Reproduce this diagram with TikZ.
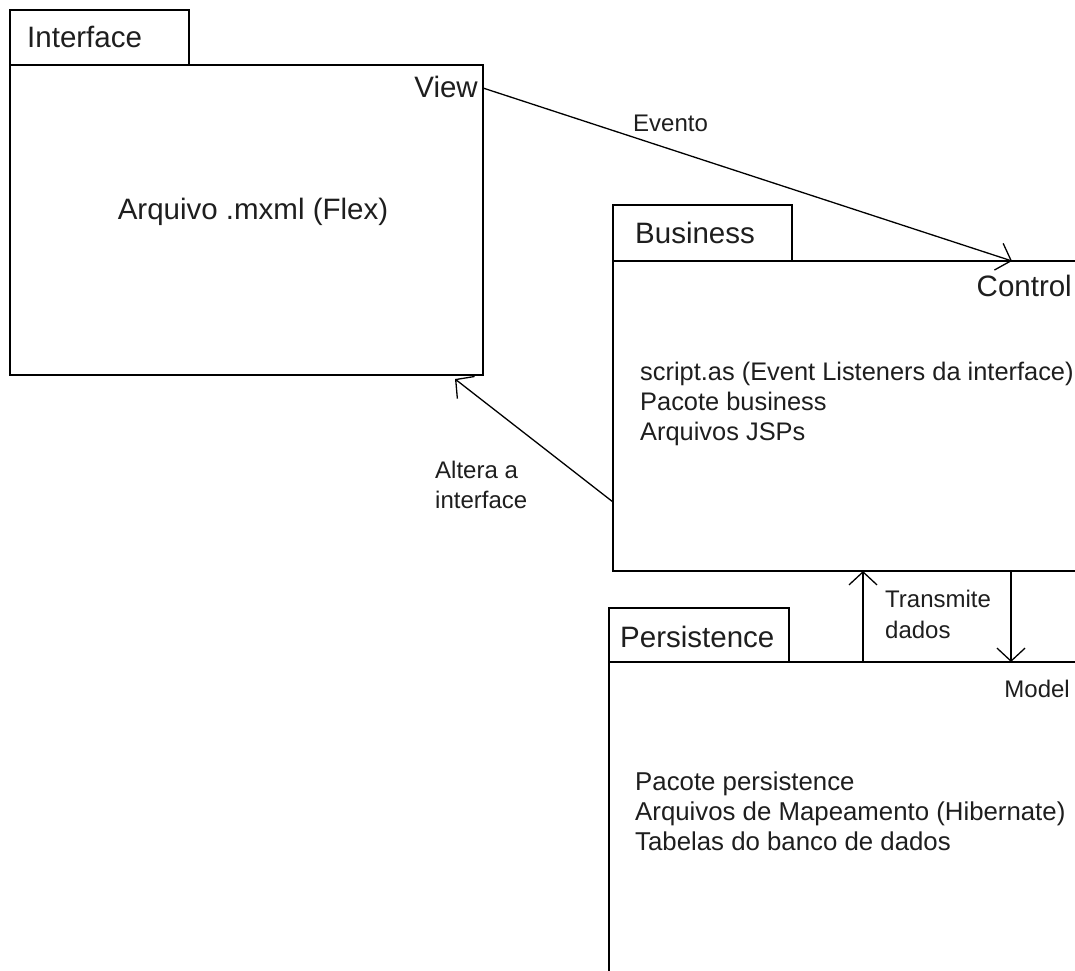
\documentclass[tikz,border=0pt]{standalone}
\usepackage{fontspec}
\setmainfont{Liberation Sans}
\usetikzlibrary{arrows.meta}
\definecolor{txt}{HTML}{1E1E1E}
\tikzset{
  box/.style={draw=black, line width=1.7pt},
  big/.style={inner sep=0pt, text=txt, font=\fontsize{29.5}{35}\selectfont},
  small/.style={inner sep=0pt, text=txt, font=\fontsize{24}{29}\selectfont},
  list/.style={inner sep=0pt, text=txt, font=\fontsize{25.4}{30}\selectfont},
  plist/.style={inner sep=0pt, text=txt, font=\fontsize{25.8}{30}\selectfont},
  conn/.style={draw=black, line width=1.3pt, -{Straight Barb[length=13pt, width=28pt, line width=1.3pt]}}
}
\begin{document}
\begin{tikzpicture}[x=1pt, y=-1pt]
\useasboundingbox (0,0) rectangle (1075,970);
\fill[white] (0,0) rectangle (1075,970);
% Interface
\draw[box] (10,10) rectangle (189,65);
\draw[box] (10,65) rectangle (483,375);
\node[big, anchor=base west] (tInterface) at (27,47) {Interface};
\node[big, anchor=base east] (tView) at (478,97) {View};
\node[big, anchor=base] (tArquivo) at (253,219) {Arquivo .mxml (Flex)};
% Business
\draw[box] (613,205) rectangle (792,261);
\draw[box] (1075,261) -- (613,261) -- (613,571) -- (1075,571);
\node[big, anchor=base west] (tBusiness) at (635,243) {Business};
\node[big, anchor=base east] (tControl) at (1072,296) {Control};
\node[list, anchor=base west] (b1) at (640,380) {script.as (Event Listeners da interface)};
\node[list, anchor=base west] (b2) at (640,410) {Pacote business};
\node[list, anchor=base west] (b3) at (640,440) {Arquivos JSPs};
% Persistence
\draw[box] (609,608) rectangle (789,662);
\draw[box] (1075,662) -- (609,662) -- (609,975);
\node[big, anchor=base west] (tPersistence) at (620,647) {Persistence};
\node[small, anchor=base east] (tModel) at (1070,697) {Model};
\node[plist, anchor=base west] (p1) at (635,790) {Pacote persistence};
\node[plist, anchor=base west] (p2) at (635,820) {Arquivos de Mapeamento (Hibernate)};
\node[plist, anchor=base west] (p3) at (635,850) {Tabelas do banco de dados};
% connector end points
\coordinate (viewOut) at (483,88);
\coordinate (controlIn) at (1012,261);
\coordinate (busOut) at (613,502);
\coordinate (ifIn) at (455,379);
\coordinate (persUp) at (863,662);
\coordinate (busUp) at (863,571);
\coordinate (busDown) at (1011,571);
\coordinate (persDown) at (1011,662);
% connectors
\draw[conn] (viewOut) -- (controlIn);
\draw[conn] (busOut) -- (ifIn);
\draw[conn] (persUp) -- (busUp);
\draw[conn] (busDown) -- (persDown);
% labels
\node[small, anchor=base west] (lEvento) at (633,131) {Evento};
\node[small, anchor=base west] (lAltera1) at (435,478) {Altera a};
\node[small, anchor=base west] (lAltera2) at (435,508) {interface};
\node[small, anchor=base west] (lTrans1) at (885,607) {Transmite};
\node[small, anchor=base west] (lTrans2) at (885,638) {dados};
\end{tikzpicture}
\end{document}
